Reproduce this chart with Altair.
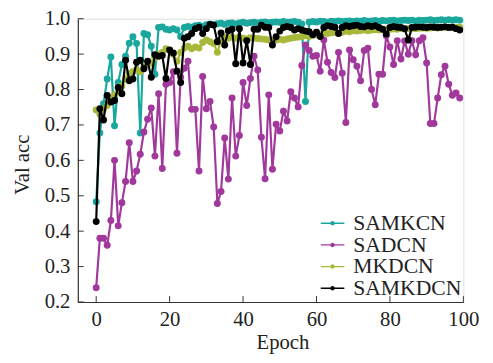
import altair as alt
import pandas as pd

epochs = list(range(100))

samkcn = [0.483, 0.677, 0.76, 0.83, 0.892, 0.698, 0.82, 0.871, 0.894, 0.931,
          0.949, 0.93, 0.677, 0.958, 0.955, 0.922, 0.843, 0.975, 0.977, 0.97,
          0.968, 0.972, 0.968, 0.95, 0.975, 0.978, 0.976, 0.98, 0.982, 0.978,
          0.983, 0.985, 0.983, 0.986, 0.987, 0.984, 0.987, 0.988, 0.985, 0.988,
          0.99, 0.987, 0.989, 0.99, 0.988, 0.99, 0.991, 0.989, 0.99, 0.991,
          0.99, 0.992, 0.99, 0.991, 0.992, 0.99, 0.985, 0.766, 0.99, 0.992,
          0.991, 0.993, 0.992, 0.99, 0.993, 0.992, 0.994, 0.992, 0.993, 0.994,
          0.992, 0.994, 0.993, 0.995, 0.993, 0.994, 0.995, 0.993, 0.995, 0.994,
          0.995, 0.996, 0.994, 0.995, 0.996, 0.995, 0.996, 0.994, 0.996, 0.995,
          0.996, 0.997, 0.995, 0.996, 0.997, 0.996, 0.997, 0.996, 0.997, 0.996]

sadcn = [0.24, 0.38, 0.38, 0.36, 0.43, 0.60, 0.415, 0.48, 0.54, 0.65,
         0.54, 0.57, 0.617, 0.68, 0.716, 0.748, 0.612, 0.788, 0.577, 0.815,
         0.82, 0.85, 0.62, 0.835, 0.86, 0.88, 0.744, 0.744, 0.57, 0.837,
         0.746, 0.766, 0.694, 0.478, 0.512, 0.663, 0.547, 0.776, 0.612, 0.67,
         0.82, 0.755, 0.831, 0.894, 0.855, 0.665, 0.548, 0.785, 0.575, 0.702,
         0.683, 0.739, 0.711, 0.794, 0.776, 0.751, 0.868, 0.926, 0.91, 0.894,
         0.896, 0.852, 0.94, 0.877, 0.848, 0.834, 0.905, 0.846, 0.707, 0.912,
         0.884, 0.866, 0.825, 0.91, 0.917, 0.80, 0.757, 0.843, 0.843, 0.952,
         0.92, 0.871, 0.938, 0.886, 0.937, 0.90, 0.938, 0.898, 0.938, 0.946,
         0.875, 0.704, 0.704, 0.776, 0.842, 0.866, 0.815, 0.784, 0.79, 0.776]

mkdcn = [0.742, 0.73, 0.745, 0.755, 0.775, 0.785, 0.795, 0.81, 0.83, 0.845,
         0.85, 0.855, 0.85, 0.865, 0.87, 0.875, 0.89, 0.9, 0.905, 0.915,
         0.91, 0.9, 0.88, 0.905, 0.917, 0.922, 0.915, 0.92, 0.917, 0.933,
         0.94, 0.935, 0.93, 0.905, 0.94, 0.948, 0.945, 0.948, 0.945, 0.948,
         0.945, 0.943, 0.946, 0.945, 0.944, 0.943, 0.942, 0.94, 0.938, 0.94,
         0.942, 0.94, 0.943, 0.945, 0.947, 0.948, 0.95, 0.952, 0.95, 0.953,
         0.955, 0.957, 0.96, 0.958, 0.96, 0.962, 0.96, 0.962, 0.965, 0.963,
         0.966, 0.965, 0.967, 0.968, 0.966, 0.968, 0.969, 0.968, 0.97, 0.969,
         0.97, 0.971, 0.97, 0.972, 0.971, 0.972, 0.973, 0.972, 0.973, 0.974,
         0.973, 0.974, 0.975, 0.974, 0.975, 0.976, 0.975, 0.976, 0.975, 0.976]

samkdcn = [0.427, 0.746, 0.714, 0.783, 0.765, 0.769, 0.806, 0.788, 0.883, 0.825,
           0.83, 0.877, 0.883, 0.859, 0.88, 0.835, 0.898, 0.894, 0.896, 0.831,
           0.912, 0.903, 0.852, 0.82, 0.945, 0.949, 0.958, 0.972, 0.976, 0.958,
           0.972, 0.984, 0.982, 0.935, 0.96, 0.926, 0.966, 0.97, 0.873, 0.972,
           0.875, 0.938, 0.871, 0.97, 0.97, 0.982, 0.976, 0.975, 0.926, 0.949,
           0.965, 0.975, 0.978, 0.975, 0.968, 0.972, 0.968, 0.965, 0.963, 0.955,
           0.962, 0.95, 0.975, 0.98, 0.978, 0.976, 0.958, 0.975, 0.98, 0.978,
           0.98, 0.982, 0.978, 0.977, 0.98, 0.978, 0.98, 0.975, 0.97, 0.957,
           0.975, 0.978, 0.976, 0.975, 0.972, 0.94, 0.975, 0.976, 0.977, 0.976,
           0.975, 0.977, 0.976, 0.975, 0.976, 0.977, 0.975, 0.976, 0.972, 0.968]

series_names = ["SAMKCN", "SADCN", "MKDCN", "SAMKDCN"]
series_colors = ["#1aa89e", "#a0399b", "#a9b83a", "#000000"]
x_ticks = [0, 20, 40, 60, 80, 100]
y_ticks = [0.2, 0.3, 0.4, 0.5, 0.6, 0.7, 0.8, 0.9, 1.0]

rows = []
for name, vals in zip(series_names, [samkcn, sadcn, mkdcn, samkdcn]):
    for e, v in zip(epochs, vals):
        rows.append({"epoch": e, "acc": v, "model": name})
df = pd.DataFrame(rows)

FONT = "Liberation Serif"
AXIS_COLOR = "#333333"
TEXT_COLOR = "#222222"
W, H = 392, 288

xscale = alt.Scale(domain=[-5, 100], nice=False, zero=False)
yscale = alt.Scale(domain=[0.2, 1.0], nice=False, zero=False)

legend_path = ("M-1.2,-0.07H1.2V0.07H-1.2Z "
               "M-0.23,0A0.23,0.23 0 1,1 0.23,0A0.23,0.23 0 1,1 -0.23,0Z")

color = alt.Color(
    "model:N",
    scale=alt.Scale(domain=series_names, range=series_colors),
    legend=alt.Legend(
        title=None, orient="none", legendX=248, legendY=197,
        symbolType=legend_path, symbolSize=400, symbolStrokeWidth=0,
        labelFont=FONT, labelFontSize=22, labelColor=TEXT_COLOR,
        labelOffset=10, rowPadding=0, padding=0,
    ),
)

x_axis = alt.Axis(values=x_ticks, ticks=False, grid=False,
                  domainColor=AXIS_COLOR, domainWidth=1.2,
                  labelFont=FONT, labelFontSize=21, labelColor=TEXT_COLOR,
                  labelPadding=7, labelFlush=False, labelOverlap=False,
                  titleFont=FONT, titleFontSize=21, titleColor=TEXT_COLOR,
                  titleFontWeight="normal", titleX=208, titleY=47,
                  titleBaseline="alphabetic")
y_axis = alt.Axis(values=y_ticks, format=".1f", ticks=False, grid=False,
                  domainColor=AXIS_COLOR, domainWidth=1.2,
                  labelFont=FONT, labelFontSize=21, labelColor=TEXT_COLOR,
                  labelPadding=8, labelFlush=False, labelOverlap=False,
                  titleFont=FONT, titleFontSize=21, titleColor=TEXT_COLOR,
                  titleFontWeight="normal", titleX=-50, titleY=148,
                  titleAngle=270, titleBaseline="alphabetic")

x_enc = alt.X("epoch:Q", scale=xscale, title="Epoch", axis=x_axis)
y_enc = alt.Y("acc:Q", scale=yscale, title="Val acc", axis=y_axis)

base = alt.Chart(df).encode(x=x_enc, y=y_enc, color=color)

layers = []
for name in series_names:
    sub = base.transform_filter(alt.datum.model == name)
    layers.append(sub.mark_line(strokeWidth=2.2))
    layers.append(sub.mark_point(filled=True, size=50, opacity=1))

xt_df = pd.DataFrame({"t": x_ticks})
yt_df = pd.DataFrame({"t": y_ticks})
x_tick_rules = alt.Chart(xt_df).mark_rule(color=AXIS_COLOR, strokeWidth=1).encode(
    x=alt.X("t:Q", scale=xscale, title="Epoch", axis=x_axis),
    y=alt.value(H), y2=alt.value(H - 6))
y_tick_rules = alt.Chart(yt_df).mark_rule(color=AXIS_COLOR, strokeWidth=1).encode(
    y=alt.Y("t:Q", scale=yscale, title="Val acc", axis=y_axis),
    x=alt.value(0), x2=alt.value(6))

chart = alt.layer(*layers, x_tick_rules, y_tick_rules).properties(
    width=W, height=H,
    autosize=alt.AutoSizeParams(type="none"),
    padding={"left": 71, "top": 8, "right": 22, "bottom": 51},
).configure_view(stroke=None).configure(background="white")

chart.save("out.html", embed_options={"renderer": "svg", "actions": False})
